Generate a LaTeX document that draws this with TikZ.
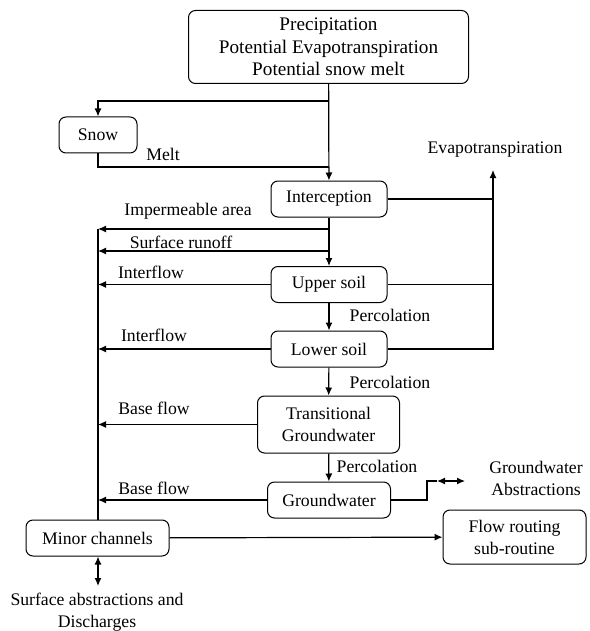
\documentclass[tikz,border=0pt]{standalone}
\usepackage{fontspec}
\setmainfont{Liberation Serif}
\newfontfamily\diagfont{Liberation Serif}
\usepackage{tikz}
\usetikzlibrary{arrows.meta, positioning}

\begin{document}
\begin{tikzpicture}[
    x=1pt, y=-1pt,
    font=\diagfont\fontsize{17.7}{22}\selectfont,
    >={Latex[length=8pt,width=7pt]},
    box node/.style={rectangle,rounded corners=7pt,draw,line width=1pt,align=center,inner sep=2pt},
    label node/.style={inner sep=0pt,align=center},
    arrow/.style={->,line width=1.2pt},
    flow line/.style={line width=1.2pt}
]
\useasboundingbox (0,0) rectangle (589,631);

% Inputs
\node[box node,minimum width=280pt,minimum height=73pt,font=\diagfont\fontsize{19.2}{22.5}\selectfont] (input) at (328.5,47)
    {Precipitation\\Potential Evapotranspiration\\Potential snow melt};

% Snow
\node[box node,minimum width=78pt,minimum height=36pt] (snow) at (98,135) {Snow};

% Storages
\node[box node,minimum width=116pt,minimum height=36pt] (interception) at (329,199) {Interception};
\node[box node,minimum width=116pt,minimum height=36pt] (upper) at (329,284.5) {Upper soil};
\node[box node,minimum width=116pt,minimum height=36pt] (lower) at (329,349) {Lower soil};
\node[box node,minimum width=142pt,minimum height=57pt] (transitional) at (328.5,424.5) {Transitional\\Groundwater};
\node[box node,minimum width=123pt,minimum height=36pt] (groundwater) at (329,500) {Groundwater};

% Channels
\node[box node,minimum width=143pt,minimum height=36pt] (minor) at (97.5,538) {Minor channels};
\node[box node,minimum width=143pt,minimum height=54pt] (routing) at (514.5,537) {Flow routing\\sub-routine};

% Helper points
\coordinate (split) at (329,101);
\coordinate (meltin) at (329,167);
\coordinate (evtop) at (493,170);
\coordinate (collector) at (98,229);
\coordinate (impsplit) at (329,229);
\coordinate (runsplit) at (329,251);
\coordinate (gwbend) at (427,481);
\coordinate (gwleft) at (437,481);
\coordinate (gwright) at (465,481);
\coordinate (surfend) at (98,586);

% Labels
\node[label node] (melt) at (163,154) {Melt};
\node[label node] (evap) at (495,150) {Evapotranspiration};
\node[label node] (imp) at (188,211) {Impermeable area};
\node[label node] (runoff) at (181,242) {Surface runoff};
\node[label node] (inter1) at (151,272) {Interflow};
\node[label node] (inter2) at (154,335) {Interflow};
\node[label node] (perc1) at (390,315) {Percolation};
\node[label node] (perc2) at (390,382) {Percolation};
\node[label node] (perc3) at (377,466) {Percolation};
\node[label node] (base1) at (154,408) {Base flow};
\node[label node] (base2) at (154,488) {Base flow};
\node[label node] (gwabs) at (536,478) {Groundwater\\Abstractions};
\node[label node] (surfabs) at (97,612) {Surface abstractions and\\Discharges};

% Arrows
\draw[arrow] (input) -- (interception);
\draw[arrow] (split) -| (snow);
\draw[flow line] (snow) |- (meltin);
\draw[flow line] (interception) -- (interception -| evtop);
\draw[flow line] (upper) -- (upper -| evtop);
\draw[arrow] (lower) -| (evtop);
\draw[flow line] (collector) -- (collector |- minor.north);
\draw[arrow] (impsplit) -- (collector);
\draw[arrow] (runsplit) -- (runsplit -| collector);
\draw[arrow] (interception) -- (upper);
\draw[arrow] (upper) -- (upper -| collector);
\draw[arrow] (upper) -- (lower);
\draw[arrow] (lower) -- (lower -| collector);
\draw[arrow] (lower) -- (transitional);
\draw[arrow] (transitional) -- (transitional -| collector);
\draw[arrow] (transitional) -- (groundwater);
\draw[arrow] (groundwater) -- (groundwater -| collector);
\draw[flow line] (groundwater) -| (gwbend) -- (gwleft);
\draw[flow line,<->] (gwleft) -- (gwright);
\draw[arrow] (minor) -- (routing);
\draw[flow line,<->] (minor.south -| surfend) -- (surfend);

\end{tikzpicture}
\end{document}
